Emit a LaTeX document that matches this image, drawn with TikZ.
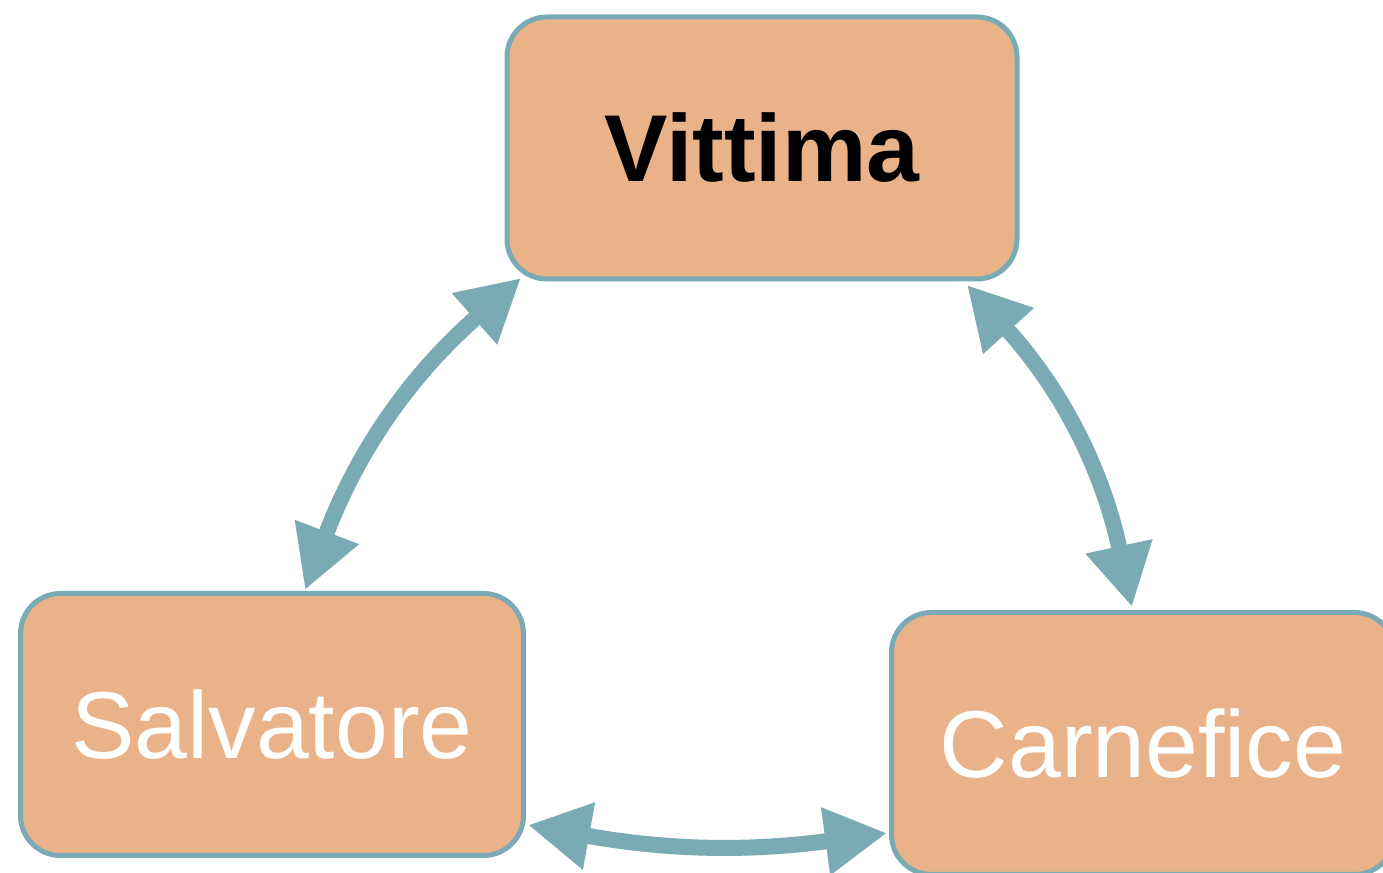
\documentclass[tikz,border=0pt]{standalone}
\usepackage{fontspec}
\setmainfont{Liberation Sans}
\usetikzlibrary{arrows.meta,calc}
\definecolor{boxfill}{HTML}{EAB289}
\definecolor{teal}{HTML}{7AAAB4}
\tikzset{
  rolebox/.style={draw=teal, line width=2.5pt, fill=boxfill, rounded corners=20pt,
    inner sep=0pt, minimum height=131pt, font=\fontsize{47.5pt}{56pt}\selectfont},
  conn/.style={draw=teal, line width=8pt,
    {Triangle[length=31pt,width=32pt]}-{Triangle[length=31pt,width=32pt]}}
}
\begin{document}
\begin{tikzpicture}[x=0.5pt,y=0.5pt]
\useasboundingbox (0,0) rectangle (1383,873);
\clip (0,0) rectangle (1383,873);
\node[rolebox, minimum width=255pt, text=black, font=\fontsize{47.5pt}{56pt}\selectfont\bfseries] (vit) at (762,725) {Vittima};
\node[rolebox, minimum width=251.5pt, text=white] (sal) at (272,148.5) {Salvatore};
\node[rolebox, minimum width=251.5pt, text=white] (car) at (1143,129.5) {Carnefice};
\draw[conn] ($(sal.north)+(33,1)$) to[bend left=14] ($(vit.south west)+(16.5,3.5)$);
\draw[conn] ($(vit.south east)+(-52.5,-3.5)$) to[bend left=15] ($(car.north)+(-11,3)$);
\draw[conn] ($(sal.south east)+(2,33)$) to[bend right=9] ($(car.south west)+(-2,44)$);
\end{tikzpicture}
\end{document}
